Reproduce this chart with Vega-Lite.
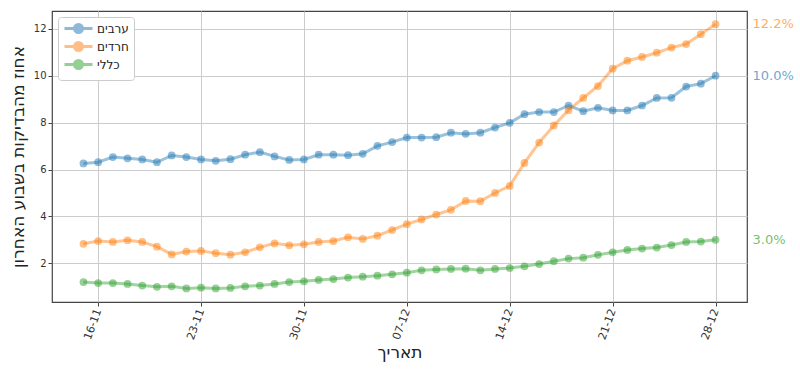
{
  "$schema": "https://vega.github.io/schema/vega-lite/v6.json",
  "width": 695,
  "height": 291,
  "padding": {"left": 9, "top": 11, "right": 5, "bottom": 5},
  "background": "white",
  "datasets": {
    "series": [
      {"date": "2020-11-15", "group": "ערבים", "value": 6.26},
      {"date": "2020-11-16", "group": "ערבים", "value": 6.31},
      {"date": "2020-11-17", "group": "ערבים", "value": 6.53},
      {"date": "2020-11-18", "group": "ערבים", "value": 6.48},
      {"date": "2020-11-19", "group": "ערבים", "value": 6.43},
      {"date": "2020-11-20", "group": "ערבים", "value": 6.31},
      {"date": "2020-11-21", "group": "ערבים", "value": 6.60},
      {"date": "2020-11-22", "group": "ערבים", "value": 6.53},
      {"date": "2020-11-23", "group": "ערבים", "value": 6.43},
      {"date": "2020-11-24", "group": "ערבים", "value": 6.37},
      {"date": "2020-11-25", "group": "ערבים", "value": 6.44},
      {"date": "2020-11-26", "group": "ערבים", "value": 6.63},
      {"date": "2020-11-27", "group": "ערבים", "value": 6.74},
      {"date": "2020-11-28", "group": "ערבים", "value": 6.56},
      {"date": "2020-11-29", "group": "ערבים", "value": 6.41},
      {"date": "2020-11-30", "group": "ערבים", "value": 6.43},
      {"date": "2020-12-01", "group": "ערבים", "value": 6.63},
      {"date": "2020-12-02", "group": "ערבים", "value": 6.63},
      {"date": "2020-12-03", "group": "ערבים", "value": 6.61},
      {"date": "2020-12-04", "group": "ערבים", "value": 6.67},
      {"date": "2020-12-05", "group": "ערבים", "value": 7.01},
      {"date": "2020-12-06", "group": "ערבים", "value": 7.17},
      {"date": "2020-12-07", "group": "ערבים", "value": 7.36},
      {"date": "2020-12-08", "group": "ערבים", "value": 7.36},
      {"date": "2020-12-09", "group": "ערבים", "value": 7.38},
      {"date": "2020-12-10", "group": "ערבים", "value": 7.57},
      {"date": "2020-12-11", "group": "ערבים", "value": 7.52},
      {"date": "2020-12-12", "group": "ערבים", "value": 7.57},
      {"date": "2020-12-13", "group": "ערבים", "value": 7.79},
      {"date": "2020-12-14", "group": "ערבים", "value": 7.99},
      {"date": "2020-12-15", "group": "ערבים", "value": 8.36},
      {"date": "2020-12-16", "group": "ערבים", "value": 8.45},
      {"date": "2020-12-17", "group": "ערבים", "value": 8.45},
      {"date": "2020-12-18", "group": "ערבים", "value": 8.73},
      {"date": "2020-12-19", "group": "ערבים", "value": 8.49},
      {"date": "2020-12-20", "group": "ערבים", "value": 8.63},
      {"date": "2020-12-21", "group": "ערבים", "value": 8.52},
      {"date": "2020-12-22", "group": "ערבים", "value": 8.52},
      {"date": "2020-12-23", "group": "ערבים", "value": 8.73},
      {"date": "2020-12-24", "group": "ערבים", "value": 9.05},
      {"date": "2020-12-25", "group": "ערבים", "value": 9.06},
      {"date": "2020-12-26", "group": "ערבים", "value": 9.54},
      {"date": "2020-12-27", "group": "ערבים", "value": 9.66},
      {"date": "2020-12-28", "group": "ערבים", "value": 10.0},
      {"date": "2020-11-15", "group": "חרדים", "value": 2.83},
      {"date": "2020-11-16", "group": "חרדים", "value": 2.95},
      {"date": "2020-11-17", "group": "חרדים", "value": 2.91},
      {"date": "2020-11-18", "group": "חרדים", "value": 2.98},
      {"date": "2020-11-19", "group": "חרדים", "value": 2.91},
      {"date": "2020-11-20", "group": "חרדים", "value": 2.71},
      {"date": "2020-11-21", "group": "חרדים", "value": 2.38},
      {"date": "2020-11-22", "group": "חרדים", "value": 2.50},
      {"date": "2020-11-23", "group": "חרדים", "value": 2.53},
      {"date": "2020-11-24", "group": "חרדים", "value": 2.43},
      {"date": "2020-11-25", "group": "חרדים", "value": 2.37},
      {"date": "2020-11-26", "group": "חרדים", "value": 2.47},
      {"date": "2020-11-27", "group": "חרדים", "value": 2.68},
      {"date": "2020-11-28", "group": "חרדים", "value": 2.85},
      {"date": "2020-11-29", "group": "חרדים", "value": 2.77},
      {"date": "2020-11-30", "group": "חרדים", "value": 2.81},
      {"date": "2020-12-01", "group": "חרדים", "value": 2.91},
      {"date": "2020-12-02", "group": "חרדים", "value": 2.95},
      {"date": "2020-12-03", "group": "חרדים", "value": 3.11},
      {"date": "2020-12-04", "group": "חרדים", "value": 3.04},
      {"date": "2020-12-05", "group": "חרדים", "value": 3.18},
      {"date": "2020-12-06", "group": "חרדים", "value": 3.42},
      {"date": "2020-12-07", "group": "חרדים", "value": 3.67},
      {"date": "2020-12-08", "group": "חרדים", "value": 3.87},
      {"date": "2020-12-09", "group": "חרדים", "value": 4.08},
      {"date": "2020-12-10", "group": "חרדים", "value": 4.28},
      {"date": "2020-12-11", "group": "חרדים", "value": 4.66},
      {"date": "2020-12-12", "group": "חרדים", "value": 4.65},
      {"date": "2020-12-13", "group": "חרדים", "value": 5.0},
      {"date": "2020-12-14", "group": "חרדים", "value": 5.3},
      {"date": "2020-12-15", "group": "חרדים", "value": 6.28},
      {"date": "2020-12-16", "group": "חרדים", "value": 7.15},
      {"date": "2020-12-17", "group": "חרדים", "value": 7.88},
      {"date": "2020-12-18", "group": "חרדים", "value": 8.53},
      {"date": "2020-12-19", "group": "חרדים", "value": 9.05},
      {"date": "2020-12-20", "group": "חרדים", "value": 9.56},
      {"date": "2020-12-21", "group": "חרדים", "value": 10.3},
      {"date": "2020-12-22", "group": "חרדים", "value": 10.64},
      {"date": "2020-12-23", "group": "חרדים", "value": 10.8},
      {"date": "2020-12-24", "group": "חרדים", "value": 10.98},
      {"date": "2020-12-25", "group": "חרדים", "value": 11.2},
      {"date": "2020-12-26", "group": "חרדים", "value": 11.35},
      {"date": "2020-12-27", "group": "חרדים", "value": 11.77},
      {"date": "2020-12-28", "group": "חרדים", "value": 12.2},
      {"date": "2020-11-15", "group": "כללי", "value": 1.2},
      {"date": "2020-11-16", "group": "כללי", "value": 1.16},
      {"date": "2020-11-17", "group": "כללי", "value": 1.16},
      {"date": "2020-11-18", "group": "כללי", "value": 1.12},
      {"date": "2020-11-19", "group": "כללי", "value": 1.05},
      {"date": "2020-11-20", "group": "כללי", "value": 1.0},
      {"date": "2020-11-21", "group": "כללי", "value": 1.02},
      {"date": "2020-11-22", "group": "כללי", "value": 0.93},
      {"date": "2020-11-23", "group": "כללי", "value": 0.96},
      {"date": "2020-11-24", "group": "כללי", "value": 0.93},
      {"date": "2020-11-25", "group": "כללי", "value": 0.95},
      {"date": "2020-11-26", "group": "כללי", "value": 1.02},
      {"date": "2020-11-27", "group": "כללי", "value": 1.05},
      {"date": "2020-11-28", "group": "כללי", "value": 1.12},
      {"date": "2020-11-29", "group": "כללי", "value": 1.2},
      {"date": "2020-11-30", "group": "כללי", "value": 1.23},
      {"date": "2020-12-01", "group": "כללי", "value": 1.29},
      {"date": "2020-12-02", "group": "כללי", "value": 1.33},
      {"date": "2020-12-03", "group": "כללי", "value": 1.39},
      {"date": "2020-12-04", "group": "כללי", "value": 1.43},
      {"date": "2020-12-05", "group": "כללי", "value": 1.47},
      {"date": "2020-12-06", "group": "כללי", "value": 1.53},
      {"date": "2020-12-07", "group": "כללי", "value": 1.6},
      {"date": "2020-12-08", "group": "כללי", "value": 1.7},
      {"date": "2020-12-09", "group": "כללי", "value": 1.74},
      {"date": "2020-12-10", "group": "כללי", "value": 1.76},
      {"date": "2020-12-11", "group": "כללי", "value": 1.77},
      {"date": "2020-12-12", "group": "כללי", "value": 1.7},
      {"date": "2020-12-13", "group": "כללי", "value": 1.76},
      {"date": "2020-12-14", "group": "כללי", "value": 1.8},
      {"date": "2020-12-15", "group": "כללי", "value": 1.87},
      {"date": "2020-12-16", "group": "כללי", "value": 1.97},
      {"date": "2020-12-17", "group": "כללי", "value": 2.09},
      {"date": "2020-12-18", "group": "כללי", "value": 2.2},
      {"date": "2020-12-19", "group": "כללי", "value": 2.24},
      {"date": "2020-12-20", "group": "כללי", "value": 2.36},
      {"date": "2020-12-21", "group": "כללי", "value": 2.47},
      {"date": "2020-12-22", "group": "כללי", "value": 2.57},
      {"date": "2020-12-23", "group": "כללי", "value": 2.63},
      {"date": "2020-12-24", "group": "כללי", "value": 2.67},
      {"date": "2020-12-25", "group": "כללי", "value": 2.78},
      {"date": "2020-12-26", "group": "כללי", "value": 2.91},
      {"date": "2020-12-27", "group": "כללי", "value": 2.93},
      {"date": "2020-12-28", "group": "כללי", "value": 3.0}
    ],
    "endLabels": [
      {"date": "2020-12-28", "group": "חרדים", "value": 12.2, "label": "12.2%"},
      {"date": "2020-12-28", "group": "ערבים", "value": 10.0, "label": "10.0%"},
      {"date": "2020-12-28", "group": "כללי", "value": 3.0, "label": "3.0%"}
    ]
  },
  "encoding": {
    "x": {
      "field": "date",
      "type": "temporal",
      "timeUnit": "utcyearmonthdate",
      "title": "תאריך",
      "scale": {
        "domain": [
          {"year": 2020, "month": 11, "date": 12, "hours": 20, "minutes": 40, "utc": true},
          {"year": 2020, "month": 12, "date": 30, "hours": 3, "minutes": 20, "utc": true}
        ],
        "nice": false
      },
      "axis": {
        "values": [
          {"year": 2020, "month": 11, "date": 16, "utc": true},
          {"year": 2020, "month": 11, "date": 23, "utc": true},
          {"year": 2020, "month": 11, "date": 30, "utc": true},
          {"year": 2020, "month": 12, "date": 7, "utc": true},
          {"year": 2020, "month": 12, "date": 14, "utc": true},
          {"year": 2020, "month": 12, "date": 21, "utc": true},
          {"year": 2020, "month": 12, "date": 28, "utc": true}
        ],
        "format": "%d-%m",
        "labelAngle": -70,
        "labelFontSize": 11,
        "labelPadding": 3,
        "titlePadding": 4
      }
    },
    "y": {
      "field": "value",
      "type": "quantitative",
      "title": "אחוז מהבדיקות בשבוע האחרון",
      "scale": {"domain": [0.35, 12.76], "nice": false, "zero": false},
      "axis": {"values": [2, 4, 6, 8, 10, 12], "titlePadding": 6}
    },
    "color": {
      "field": "group",
      "type": "nominal",
      "scale": {
        "domain": ["ערבים", "חרדים", "כללי"],
        "range": ["#1f77b4", "#ff7f0e", "#2ca02c"]
      },
      "legend": {
        "title": null,
        "orient": "top-left",
        "offset": 6,
        "symbolType": "M-2.8,0L2.8,0M-0.8,0A0.8,0.8,0,1,1,0.8,0A0.8,0.8,0,1,1,-0.8,0",
        "symbolSize": 100,
        "symbolOffset": 9,
        "symbolStrokeWidth": 3,
        "symbolOpacity": 0.5,
        "labelOffset": 12,
        "labelFontSize": 12,
        "labelFont": "DejaVu Sans",
        "labelColor": "#222",
        "padding": 5,
        "rowPadding": -3,
        "strokeColor": "#cccccc",
        "fillColor": "white",
        "cornerRadius": 3
      }
    }
  },
  "layer": [
    {
      "data": {"name": "series"},
      "mark": {"type": "line", "strokeWidth": 3, "opacity": 0.45}
    },
    {
      "data": {"name": "series"},
      "mark": {"type": "point", "filled": true, "size": 60, "opacity": 0.5}
    },
    {
      "data": {"name": "endLabels"},
      "mark": {"type": "text", "align": "left", "baseline": "middle", "dx": 37, "fontSize": 13, "opacity": 0.65, "font": "DejaVu Sans"},
      "encoding": {"text": {"field": "label"}}
    }
  ],
  "config": {
    "view": {"stroke": "#444444", "strokeWidth": 1.2},
    "axis": {
      "grid": true,
      "gridColor": "#cccccc",
      "gridWidth": 1,
      "domain": false,
      "tickColor": "#444",
      "tickSize": 4,
      "labelFont": "DejaVu Sans",
      "labelFontSize": 10,
      "labelColor": "#333",
      "titleFont": "DejaVu Sans",
      "titleFontSize": 17,
      "titleFontWeight": "normal",
      "titleColor": "#222"
    }
  }
}
